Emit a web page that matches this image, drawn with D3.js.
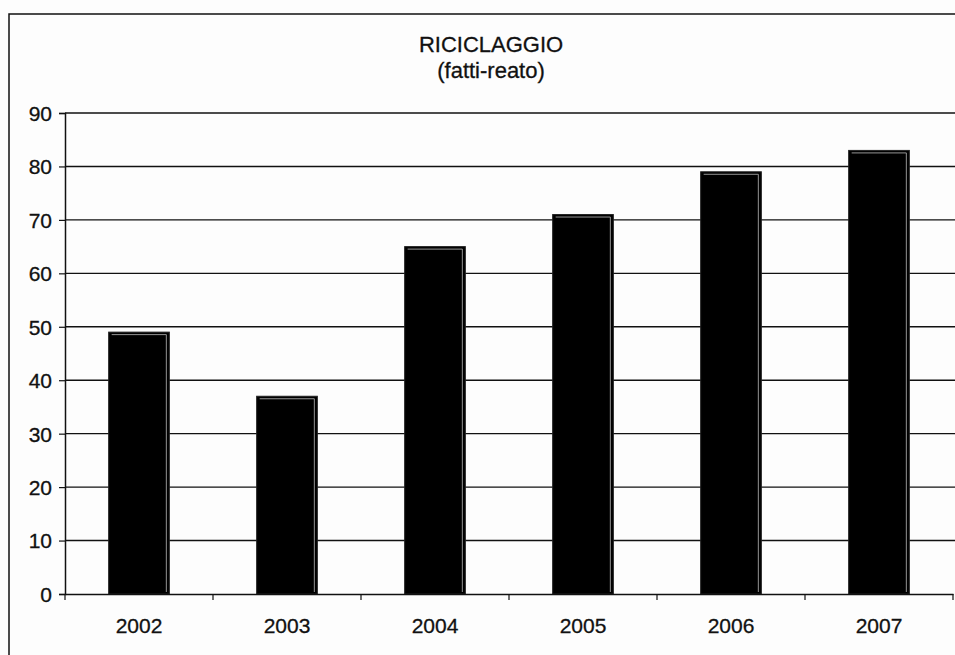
<!DOCTYPE html>
<html>
<head>
<meta charset="utf-8">
<script src="https://cdn.jsdelivr.net/npm/d3@7"></script>
<style>
	body { margin: 0; background: #fdfdfd; }
	svg { display: block; }
	text { font-family: "Liberation Sans", Arial, sans-serif; fill: #111; stroke: #111; stroke-width: 0.3px; }
</style>
</head>
<body>
<div id="chart"></div>
<script>
const years = ["2002", "2003", "2004", "2005", "2006", "2007"];
const values = [49, 37, 65, 71, 79, 83];
const yticks = [0, 10, 20, 30, 40, 50, 60, 70, 80, 90];
const title = ["RICICLAGGIO", "(fatti-reato)"];

const W = 955, H = 655;
const plot = { left: 65, right: 953, top: 113, bottom: 594 };

const svg = d3.select('#chart').append('svg')
	.attr('width', W)
	.attr('height', H);

// outer frame (cut off by the picture at right and bottom)
svg.append('path')
	.attr('d', `M9,${H + 5}V14H${W + 5}`)
	.attr('fill', 'none')
	.attr('stroke', '#111')
	.attr('stroke-width', 1.5);

svg.append('g')
	.selectAll('text')
	.data(title)
	.enter().append('text')
	.attr('x', 491)
	.attr('y', (d, i) => 52 + i * 26)
	.attr('text-anchor', 'middle')
	.attr('font-size', 22)
	.text(d => d);

const x = d3.scaleBand()
	.domain(years)
	.range([plot.left, plot.right])
	.paddingInner(0.59)
	.paddingOuter(0.295);

const y = d3.scaleLinear()
	.domain([0, 90])
	.range([plot.bottom, plot.top]);

// gridlines
svg.append('g')
	.selectAll('line')
	.data(yticks.filter(d => d > 0))
	.enter().append('line')
	.attr('x1', plot.left)
	.attr('x2', W)
	.attr('y1', d => y(d))
	.attr('y2', d => y(d))
	.attr('stroke', '#111')
	.attr('stroke-width', 1.4);

// bars
const bars = svg.append('g')
	.selectAll('g')
	.data(years.map((k, i) => ({ k, v: values[i] })))
	.enter().append('g');

bars.append('rect')
	.attr('x', d => x(d.k))
	.attr('y', d => y(d.v))
	.attr('width', x.bandwidth())
	.attr('height', d => y(0) - y(d.v))
	.attr('fill', '#000')
	.attr('stroke', '#222')
	.attr('stroke-width', 1);

// light inner edge along top and right
bars.append('path')
	.attr('d', d => {
		const x0 = x(d.k) + 3, x1 = x(d.k) + x.bandwidth() - 3;
		const y0 = y(d.v) + 2.5;
		return `M${x0},${y0}H${x1}V${y(0) - 2}`;
	})
	.attr('fill', 'none')
	.attr('stroke', '#bbb')
	.attr('stroke-width', 0.8);

// y axis
const ya = svg.append('g')
	.attr('transform', `translate(${plot.left},0)`)
	.call(d3.axisLeft(y).tickValues(yticks).tickSize(6).tickPadding(7));

// x axis, ticks at category boundaries
const xa = svg.append('g')
	.attr('transform', `translate(0,${plot.bottom})`)
	.call(d3.axisBottom(x).tickSize(0).tickPadding(24));

const bounds = years.map(k => x(k) - x.step() * x.paddingInner() / 2)
	.concat([plot.right]);

xa.selectAll('.bound')
	.data(bounds)
	.enter().append('line')
	.attr('class', 'bound')
	.attr('x1', d => d)
	.attr('x2', d => d)
	.attr('y1', 0)
	.attr('y2', 6)
	.attr('stroke', '#111')
	.attr('stroke-width', 1.2);

[ya, xa].forEach(a => {
	a.selectAll('path.domain').attr('stroke', '#111').attr('stroke-width', 1.5);
	a.selectAll('.tick line').attr('stroke', '#111').attr('stroke-width', 1.2);
	a.selectAll('text')
		.attr('font-size', 21)
		.attr('font-family', '"Liberation Sans", Arial, sans-serif')
		.attr('fill', '#111');
});

// y tick labels are vertically centred on the tick
ya.selectAll('text').attr('dy', '0.35em');
</script>
</body>
</html>
